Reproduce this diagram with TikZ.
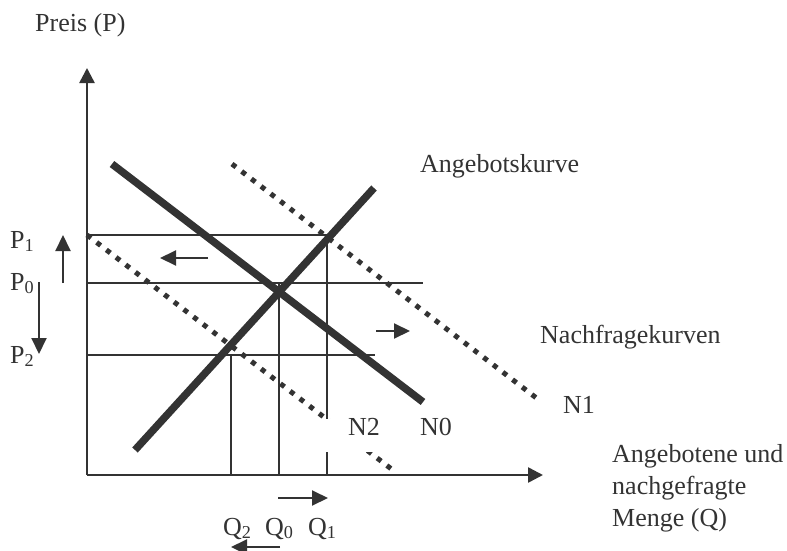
\documentclass[tikz,border=0pt]{standalone}
\usepackage{fontspec}
\setmainfont{Liberation Serif}
\usetikzlibrary{arrows.meta}
\definecolor{ink}{HTML}{333333}
\begin{document}
\begin{tikzpicture}[x=1pt,y=-1pt,
  lbl/.style={font=\fontsize{26}{31}\selectfont, inner sep=0pt, anchor=base west, text=ink},
  axis/.style={draw=ink, line width=2.5pt, -{Triangle[length=15pt,width=15pt]}},
  thin/.style={draw=ink, line width=2pt},
  thick/.style={draw=ink, line width=7.5pt},
  dotline/.style={draw=ink, line width=5pt, dash pattern=on 5pt off 7.2pt},
  arr/.style={draw=ink, line width=2pt, -{Triangle[length=16pt,width=15pt]}}]
\useasboundingbox (0,0) rectangle (787,551);
% coordinates
\coordinate (O) at (87,475);
\coordinate (Ytop) at (87,68);
\coordinate (Xend) at (543,475);
\coordinate (P1a) at (87,235);  \coordinate (P1b) at (327,235);
\coordinate (P0a) at (87,283);  \coordinate (P0b) at (423,283);
\coordinate (P2a) at (87,355);  \coordinate (P2b) at (375,355);
\coordinate (Q1top) at (327,235); \coordinate (Q1bot) at (327,475);
\coordinate (Q0top) at (279,283); \coordinate (Q0bot) at (279,475);
\coordinate (Q2top) at (231,355); \coordinate (Q2bot) at (231,475);
\coordinate (N0a) at (112,164); \coordinate (N0b) at (423,402);
\coordinate (N1a) at (232,164); \coordinate (N1b) at (539,400);
\coordinate (N2a) at (87,235);  \coordinate (N2b) at (394,471);
\coordinate (Sa) at (135,450);  \coordinate (Sb) at (374,188);
% thin lines
\draw[thin] (P1a) -- (P1b);
\draw[thin] (P0a) -- (P0b);
\draw[thin] (P2a) -- (P2b);
\draw[thin] (Q1top) -- (Q1bot);
\draw[thin] (Q0top) -- (Q0bot);
\draw[thin] (Q2top) -- (Q2bot);
% curves
\draw[dotline] (N1a) -- (N1b);
\draw[dotline] (N2a) -- (N2b);
\draw[thick] (N0a) -- (N0b);
\draw[thick] (Sa) -- (Sb);
% axes
\draw[axis] (O) -- (Ytop);
\draw[axis] (O) -- (Xend);
% N2 label with white background
\fill[white] (326,419) rectangle (398,452);
\node[lbl] (lN2) at (348,435) {N2};
% arrows
\coordinate (a1s) at (208,258); \coordinate (a1e) at (160,258);
\coordinate (a2s) at (376,331); \coordinate (a2e) at (410,331);
\coordinate (a3s) at (63,283);  \coordinate (a3e) at (63,235);
\coordinate (a4s) at (39,282);  \coordinate (a4e) at (39,354);
\coordinate (a5s) at (278,498); \coordinate (a5e) at (328,498);
\coordinate (a6s) at (280,547); \coordinate (a6e) at (231,547);
\draw[arr] (a1s) -- (a1e);
\draw[arr] (a2s) -- (a2e);
\draw[arr] (a3s) -- (a3e);
\draw[arr] (a4s) -- (a4e);
\draw[arr] (a5s) -- (a5e);
\draw[arr] (a6s) -- (a6e);
% labels
\node[lbl] (lP) at (35,32) {Preis (P)};
\node[lbl] (lA) at (420,172) {Angebotskurve};
\node[lbl] (lN) at (540,343) {Nachfragekurven};
\node[lbl] (lN1) at (563,413) {N1};
\node[lbl] (lN0) at (420,435) {N0};
\node[lbl] (lQa) at (612,462) {Angebotene und};
\node[lbl] (lQb) at (612,494) {nachgefragte};
\node[lbl] (lQc) at (612,526) {Menge (Q)};
\node[lbl] (lP1) at (10,248) {P\textsubscript{1}};
\node[lbl] (lP0) at (10,290) {P\textsubscript{0}};
\node[lbl] (lP2) at (10,363) {P\textsubscript{2}};
\node[lbl] (lQ2) at (223,535) {Q\textsubscript{2}};
\node[lbl] (lQ0) at (265,535) {Q\textsubscript{0}};
\node[lbl] (lQ1) at (308,535) {Q\textsubscript{1}};
\end{tikzpicture}
\end{document}
